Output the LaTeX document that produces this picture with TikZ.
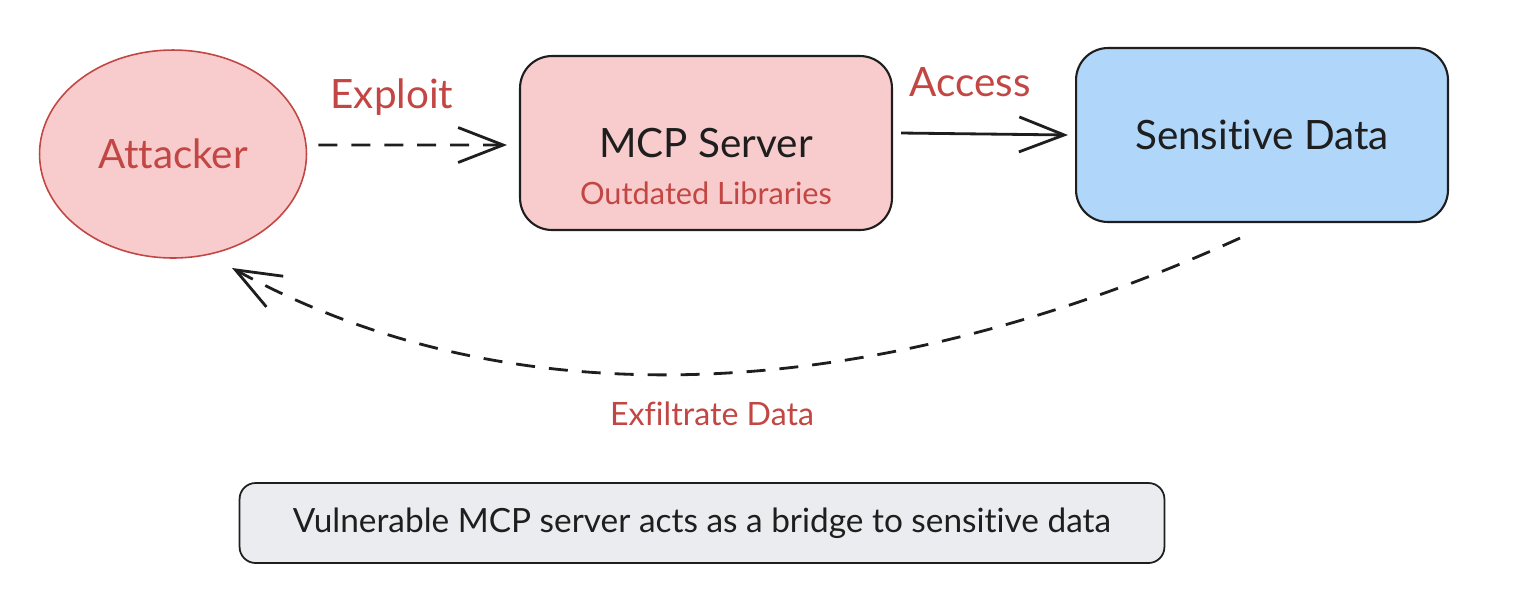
\documentclass[tikz,border=0pt]{standalone}
\usepackage{fontspec}
\setmainfont{Lato}[Ligatures=NoCommon]
\usepackage{xcolor}
\usetikzlibrary{arrows.meta,positioning,shapes.geometric}
\definecolor{red2}{HTML}{C24643}
\definecolor{pink2}{HTML}{F8CCCC}
\definecolor{blue2}{HTML}{B0D6FA}
\definecolor{grey2}{HTML}{EBECEF}
\definecolor{ink}{HTML}{1E1E1E}

\begin{document}
\begin{tikzpicture}[
          x=0.02cm, y=-0.02cm,
          every node/.style={font=\fontsize{23}{28}\selectfont},
          attbox/.style={ellipse,draw=red2,line width=0.9pt,fill=pink2,text=red2,
                         minimum width=5.34cm,minimum height=4.16cm,inner sep=0pt},
          srvbox/.style={draw=ink,line width=1.2pt,rounded corners=0.64cm,
                         minimum width=7.44cm,minimum height=3.48cm,text=ink},
          notebox/.style={draw=ink,line width=1pt,fill=grey2,rounded corners=0.32cm,
                          minimum width=18.5cm,minimum height=1.6cm,text=ink,
                          font=\fontsize{19}{23}\selectfont},
          lbl/.style={text=red2},
          small/.style={font=\fontsize{17.5}{21}\selectfont},
          arr/.style={draw=ink,line width=1.6pt,
                      -{Straight Barb[length=0.9cm,width=0.7cm]}},
          dashline/.style={dash pattern=on 0.38cm off 0.28cm},
      ]
        \useasboundingbox (0,0) rectangle (1520,600);

        \node[attbox] (att) at (173,154) {Attacker};
        \node[srvbox,fill=pink2] (mcp) at (706,143) {MCP Server};
        \node[lbl,small] (mcpsub) at (706,193) {Outdated Libraries};
        \node[srvbox,fill=blue2] (sens) at (1262,135) {Sensitive Data};

        \node[lbl] (exploit) at (392,97) {Exploit};
        \node[lbl] (access) at (970,82) {Access};
        \node[lbl,font=\fontsize{18.3}{22}\selectfont] (exfil) at (712,414) {Exfiltrate Data};

        \node[notebox] (note) at (702,523) {Vulnerable MCP server acts as a bridge to sensitive data};

        % flows
        \draw[arr,dashline] ([xshift=0.22cm,yshift=0.18cm]att.east) -- ([xshift=-0.24cm,yshift=-0.04cm]mcp.west);
        \draw[arr] ([xshift=0.16cm,yshift=0.2cm]mcp.east) -- ([xshift=-0.14cm]sens.west);
        \draw[arr,dashline] ([xshift=-0.44cm,yshift=-0.3cm]sens.south)
              .. controls +(-340,155) and +(300,165) .. ([xshift=1.18cm,yshift=-2.28cm]att.center);
      \end{tikzpicture}
\end{document}
